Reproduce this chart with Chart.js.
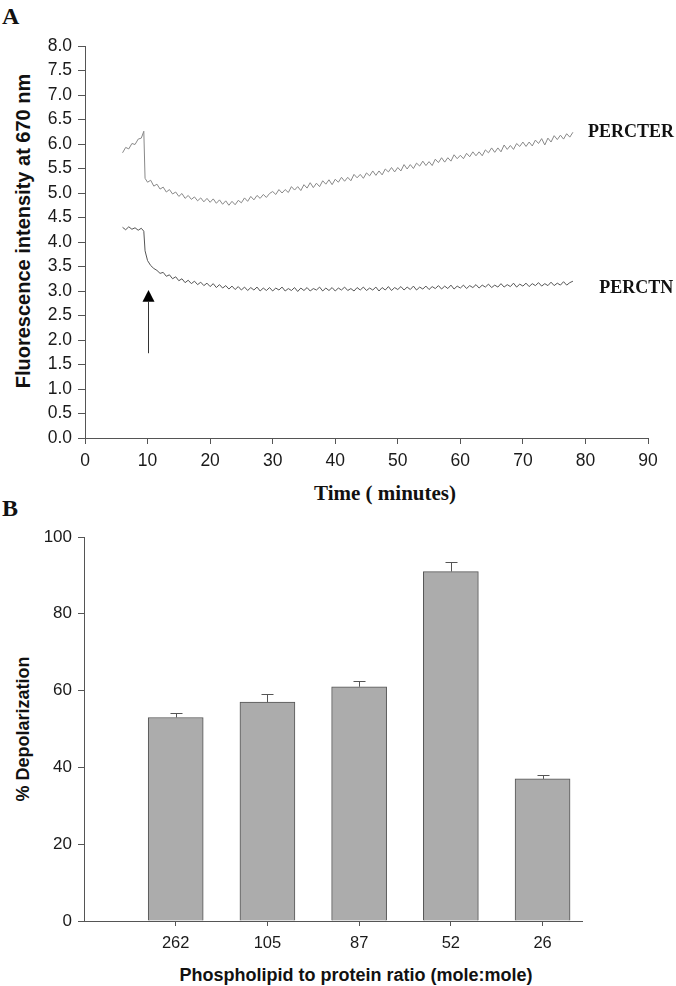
<!DOCTYPE html>
<html>
<head>
<meta charset="utf-8">
<script src="https://cdn.jsdelivr.net/npm/chart.js@4.4.1/dist/chart.umd.min.js"></script>
<style>
  body { margin: 0; background: #fff; width: 676px; height: 986px; position: relative; overflow: hidden; }
  canvas { position: absolute; left: 0; }
  #chart-a { top: 0; }
  #chart-b { top: 510px; }
  .txt { position: absolute; white-space: nowrap; color: #111; line-height: 1; }
  .panel { font: bold 24px 'Liberation Serif', serif; left: 2px; }
  .sans { font-family: 'Liberation Sans', Arial, sans-serif; font-weight: bold; }
  .serif { font-family: 'Liberation Serif', 'Times New Roman', serif; font-weight: bold; }
  .center { transform: translate(-50%, -50%); }
  .vert { transform: translate(-50%, -50%) rotate(-90deg); }
</style>
</head>
<body>
<div class="txt panel" style="top:3px">A</div>
<div class="txt panel" style="top:495px">B</div>
<div class="txt sans vert" style="left:23px; top:231px; font-size:20px">Fluorescence intensity at 670 nm</div>
<div class="txt serif center" style="left:385px; top:493px; font-size:21px">Time ( minutes)</div>
<div class="txt sans vert" style="left:23px; top:729px; font-size:18px">% Depolarization</div>
<div class="txt sans center" style="left:356px; top:975px; font-size:18px">Phospholipid to protein ratio (mole:mole)</div>
<canvas id="chart-a" width="676" height="510"></canvas>
<canvas id="chart-b" width="676" height="476"></canvas>
<script>
// panel A: fluorescence traces, every half minute
const timeMin = [
  6, 6.5, 7, 7.5, 8, 8.5, 9, 9.4, 9.6,
  10, 10.5, 11, 11.5, 12, 12.5, 13, 13.5, 14, 14.5,
  15, 15.5, 16, 16.5, 17, 17.5, 18, 18.5, 19, 19.5,
  20, 20.5, 21, 21.5, 22, 22.5, 23, 23.5, 24, 24.5,
  25, 25.5, 26, 26.5, 27, 27.5, 28, 28.5, 29, 29.5,
  30, 30.5, 31, 31.5, 32, 32.5, 33, 33.5, 34, 34.5,
  35, 35.5, 36, 36.5, 37, 37.5, 38, 38.5, 39, 39.5,
  40, 40.5, 41, 41.5, 42, 42.5, 43, 43.5, 44, 44.5,
  45, 45.5, 46, 46.5, 47, 47.5, 48, 48.5, 49, 49.5,
  50, 50.5, 51, 51.5, 52, 52.5, 53, 53.5, 54, 54.5,
  55, 55.5, 56, 56.5, 57, 57.5, 58, 58.5, 59, 59.5,
  60, 60.5, 61, 61.5, 62, 62.5, 63, 63.5, 64, 64.5,
  65, 65.5, 66, 66.5, 67, 67.5, 68, 68.5, 69, 69.5,
  70, 70.5, 71, 71.5, 72, 72.5, 73, 73.5, 74, 74.5,
  75, 75.5, 76, 76.5, 77, 77.5, 78
];

const percterValues = [
  5.82, 5.93, 5.90, 6.01, 5.99, 6.10, 6.12, 6.26, 5.30,
  5.22, 5.26, 5.14, 5.18, 5.08, 5.12, 5.02, 5.07, 4.98, 5.02,
  4.93, 4.99, 4.89, 4.95, 4.87, 4.92, 4.84, 4.90, 4.82, 4.89,
  4.81, 4.88, 4.79, 4.86, 4.77, 4.84, 4.75, 4.83, 4.76, 4.85,
  4.80, 4.90, 4.83, 4.93, 4.86, 4.95, 4.89, 4.97, 4.91, 4.99,
  5.03, 4.97, 5.07, 5.00, 5.07, 5.01, 5.13, 5.06, 5.13, 5.05,
  5.17, 5.10, 5.21, 5.11, 5.20, 5.13, 5.25, 5.18, 5.27, 5.17,
  5.28, 5.22, 5.32, 5.24, 5.32, 5.25, 5.38, 5.31, 5.38, 5.30,
  5.41, 5.35, 5.45, 5.36, 5.45, 5.37, 5.49, 5.43, 5.52, 5.43,
  5.52, 5.45, 5.58, 5.49, 5.58, 5.50, 5.61, 5.55, 5.65, 5.56,
  5.64, 5.56, 5.69, 5.62, 5.72, 5.63, 5.72, 5.65, 5.78, 5.70,
  5.77, 5.70, 5.81, 5.74, 5.84, 5.76, 5.84, 5.76, 5.88, 5.82,
  5.92, 5.83, 5.92, 5.84, 5.98, 5.89, 5.97, 5.89, 6.01, 5.95,
  6.04, 5.95, 6.04, 5.96, 6.08, 6.01, 6.11, 5.98, 6.12, 6.04,
  6.17, 6.09, 6.18, 6.10, 6.21, 6.14, 6.24
];

const perctnValues = [
  4.30, 4.25, 4.31, 4.26, 4.29, 4.24, 4.28, 4.22, 3.82,
  3.62, 3.52, 3.46, 3.42, 3.36, 3.38, 3.30, 3.33, 3.25, 3.29,
  3.21, 3.25, 3.17, 3.22, 3.15, 3.20, 3.13, 3.18, 3.11, 3.16,
  3.09, 3.15, 3.07, 3.13, 3.06, 3.11, 3.04, 3.10, 3.03, 3.09,
  3.02, 3.08, 3.01, 3.07, 3.02, 3.08, 3.00, 3.06, 3.01, 3.07,
  3.00, 3.06, 3.02, 3.08, 3.00, 3.05, 3.01, 3.07, 2.99, 3.06,
  3.01, 3.07, 3.00, 3.05, 3.02, 3.08, 3.00, 3.06, 3.01, 3.07,
  3.00, 3.06, 3.02, 3.08, 3.01, 3.05, 3.00, 3.07, 3.02, 3.08,
  3.01, 3.06, 3.02, 3.08, 3.00, 3.07, 3.02, 3.09, 3.01, 3.07,
  3.03, 3.09, 3.02, 3.08, 3.03, 3.10, 3.02, 3.08, 3.04, 3.10,
  3.03, 3.09, 3.05, 3.11, 3.04, 3.10, 3.05, 3.12, 3.04, 3.10,
  3.06, 3.12, 3.05, 3.11, 3.07, 3.13, 3.06, 3.12, 3.08, 3.14,
  3.07, 3.12, 3.08, 3.15, 3.08, 3.13, 3.09, 3.16, 3.08, 3.14,
  3.10, 3.16, 3.09, 3.15, 3.11, 3.17, 3.10, 3.15, 3.11, 3.18,
  3.11, 3.16, 3.12, 3.19, 3.12, 3.17, 3.20
];

// panel B: depolarization bars
const ratioLabels = ['262', '105', '87', '52', '26'];
const depolarization = [53, 57, 61, 91, 37];
const depolarizationErr = [1.2, 2.1, 1.5, 2.4, 1.0];

const SANS = "'Liberation Sans', Arial, sans-serif";
const SERIF = "'Liberation Serif', 'Times New Roman', serif";
Chart.defaults.font.family = SANS;
Chart.defaults.color = '#1a1a1a';

// arrow marking the addition and the trace names
const traceNotes = {
  id: 'traceNotes',
  afterDraw(chart) {
    const { ctx, scales: { x, y } } = chart;
    ctx.save();
    const ax = Math.round(x.getPixelForValue(10)) + 0.5;
    const tail = y.getPixelForValue(1.73);
    const base = y.getPixelForValue(2.78);
    const tip = y.getPixelForValue(3.02);
    ctx.strokeStyle = '#333';
    ctx.lineWidth = 1;
    ctx.beginPath();
    ctx.moveTo(ax, tail);
    ctx.lineTo(ax, base);
    ctx.stroke();
    ctx.fillStyle = '#000';
    ctx.beginPath();
    ctx.moveTo(ax, tip);
    ctx.lineTo(ax - 6, base);
    ctx.lineTo(ax + 6, base);
    ctx.closePath();
    ctx.fill();

    ctx.font = 'bold 18px ' + SERIF;
    ctx.textAlign = 'left';
    ctx.textBaseline = 'middle';
    ctx.fillStyle = '#111';
    ctx.fillText('PERCTER', x.getPixelForValue(80.4), y.getPixelForValue(6.24));
    ctx.fillText('PERCTN', x.getPixelForValue(82.2), y.getPixelForValue(3.06));
    ctx.restore();
  }
};

const errorBars = {
  id: 'errorBars',
  afterDatasetsDraw(chart) {
    const { ctx, scales: { x, y } } = chart;
    ctx.save();
    ctx.strokeStyle = '#555';
    ctx.lineWidth = 1;
    depolarization.forEach((v, i) => {
      const px = Math.round(x.getPixelForValue(i + 1)) + 0.5;
      const top = Math.round(y.getPixelForValue(v + depolarizationErr[i])) + 0.5;
      ctx.beginPath();
      ctx.moveTo(px, y.getPixelForValue(v));
      ctx.lineTo(px, top);
      ctx.moveTo(px - 6, top);
      ctx.lineTo(px + 6, top);
      ctx.stroke();
    });
    ctx.restore();
  }
};

function axisStyle(tickLength) {
  return {
    grid: { drawOnChartArea: false, drawTicks: true, tickLength: tickLength, color: '#555' },
    border: { display: true, color: '#555', width: 1 }
  };
}

new Chart(document.getElementById('chart-a'), {
  type: 'line',
  data: {
    datasets: [
      {
        label: 'PERCTER',
        data: timeMin.map((t, i) => ({ x: t, y: percterValues[i] })),
        borderColor: '#888',
        borderWidth: 1,
        pointRadius: 0,
        tension: 0
      },
      {
        label: 'PERCTN',
        data: timeMin.map((t, i) => ({ x: t, y: perctnValues[i] })),
        borderColor: '#555',
        borderWidth: 1,
        pointRadius: 0,
        tension: 0
      }
    ]
  },
  options: {
    responsive: false,
    animation: false,
    layout: { padding: { top: 46, right: 28, left: 0, bottom: 0 } },
    plugins: { legend: { display: false }, tooltip: { enabled: false } },
    scales: {
      x: {
        type: 'linear',
        min: 0,
        max: 90,
        afterFit: s => { s.height = 72; },
        ticks: { stepSize: 10, autoSkip: false, maxRotation: 0, padding: 7, font: { size: 17.5 } },
        ...axisStyle(6)
      },
      y: {
        min: 0,
        max: 8,
        afterFit: s => { s.width = 85; },
        ticks: { stepSize: 0.5, autoSkip: false, padding: 6, font: { size: 17.5 }, callback: v => v.toFixed(1) },
        ...axisStyle(7)
      }
    }
  },
  plugins: [traceNotes]
});

new Chart(document.getElementById('chart-b'), {
  type: 'bar',
  data: {
    datasets: [{
      data: depolarization.map((v, i) => ({ x: i + 1, y: v })),
      backgroundColor: '#acacac',
      borderColor: '#555',
      borderWidth: 1,
      barThickness: 55
    }]
  },
  options: {
    responsive: false,
    animation: false,
    layout: { padding: { top: 27, right: 94, left: 0, bottom: 0 } },
    plugins: { legend: { display: false }, tooltip: { enabled: false } },
    scales: {
      x: {
        type: 'linear',
        min: 0,
        max: 5.43,
        offset: false,
        afterFit: s => { s.height = 65; },
        afterBuildTicks: s => { s.ticks = ratioLabels.map((_, i) => ({ value: i + 1 })); },
        ticks: { autoSkip: false, maxRotation: 0, padding: 8, font: { size: 16.5 }, callback: v => ratioLabels[v - 1] },
        ...axisStyle(5),
        grid: { drawOnChartArea: false, offset: false, tickLength: 5, color: '#555' }
      },
      y: {
        min: 0,
        max: 100,
        afterFit: s => { s.width = 84; },
        ticks: { stepSize: 20, padding: 6, font: { size: 17 } },
        ...axisStyle(6)
      }
    }
  },
  plugins: [errorBars]
});
</script>
</body>
</html>
